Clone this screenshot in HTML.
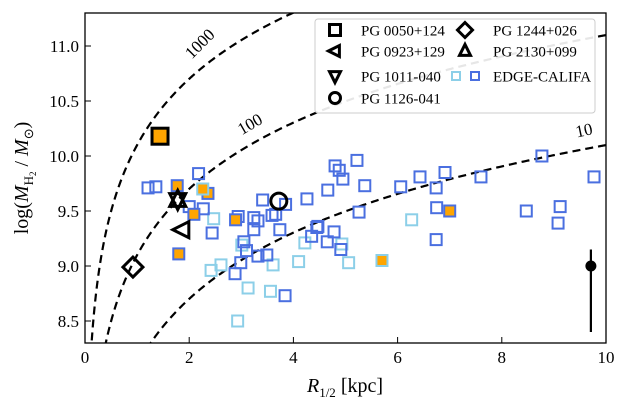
<!DOCTYPE html>
<html><head><meta charset="utf-8">
<style>
html,body{margin:0;padding:0;background:#fff;width:623px;height:411px;overflow:hidden;position:relative;}
svg{display:block;position:absolute;left:0;top:0;font-family:"Liberation Serif",serif;overflow:hidden;}
script{display:none;}
</style></head>
<body>
<svg id="chart" width="623" height="411" viewBox="0 0 623 411" xmlns="http://www.w3.org/2000/svg">
<defs><clipPath id="clip"><rect x="85" y="13" width="521" height="330"/></clipPath></defs>
<g id="curves" clip-path="url(#clip)"></g>
<g id="pts" clip-path="url(#clip)"></g>
<rect x="85" y="13" width="521" height="330" fill="none" stroke="#000" stroke-width="1.3"/>
<g id="axes"></g>
<text x="28" y="178" font-size="20" text-anchor="middle" transform="rotate(-90 28 178)">log(<tspan font-style="italic">M</tspan><tspan font-size="13" dy="5">H</tspan><tspan font-size="9" dy="3">2</tspan><tspan dy="-8"> / </tspan><tspan font-style="italic">M</tspan><tspan font-size="13" dy="5">⊙</tspan><tspan dy="-5">)</tspan></text>
<text x="345" y="392" font-size="20" text-anchor="middle"><tspan font-style="italic">R</tspan><tspan font-size="13" dy="5">1/2</tspan><tspan dy="-5"> [kpc]</tspan></text>
<g id="legend">
<rect x="315" y="19" width="280" height="94" rx="3" fill="#fff" fill-opacity="0.9" stroke="#ccc" stroke-width="1"/>
</g>
</svg>
<script>
const curveLevels = [1000, 100, 10];
const curveLabels = ["1000", "100", "10"];
const edgeDarkX = [1.21,1.36,2.18,2.0,2.27,2.44,2.94,3.05,3.1,2.99,2.88,3.24,3.32,3.24,3.32,3.41,3.49,3.59,3.66,3.74,3.85,3.84,4.26,4.35,4.45,4.47,4.65,4.66,4.78,4.8,4.88,4.95,4.91,5.22,5.37,5.26,6.06,6.43,6.74,6.75,6.74,6.91,7.6,8.47,8.77,9.08,9.12,9.77];
const edgeDarkY = [9.71,9.72,9.84,9.54,9.52,9.30,9.45,9.22,9.14,9.03,8.93,9.44,9.41,9.33,9.09,9.60,9.10,9.46,9.47,9.33,9.56,8.73,9.61,9.27,9.35,9.36,9.22,9.69,9.31,9.91,9.87,9.79,9.15,9.96,9.73,9.49,9.72,9.81,9.71,9.53,9.24,9.85,9.81,9.50,10.0,9.39,9.54,9.81];
const edgeDarkOrangeX = [1.77,2.09,2.36,2.89,7.0,1.80];
const edgeDarkOrangeY = [9.73,9.47,9.66,9.42,9.5,9.11];
const edgeLightX = [2.47,2.42,2.61,3.01,3.13,3.56,3.61,4.1,4.22,4.93,5.06,6.27,2.93];
const edgeLightY = [9.43,8.96,9.01,9.19,8.80,8.77,9.01,9.04,9.21,9.20,9.03,9.42,8.5];
const edgeLightOrangeX = [2.26,5.7];
const edgeLightOrangeY = [9.70,9.05];
const pgNames = ["PG 0050+124","PG 0923+129","PG 1011-040","PG 1126-041","PG 1244+026","PG 2130+099"];
const pgX = [1.44,1.87,1.78,3.72,0.92,1.78];
const pgY = [10.18,9.33,9.6,9.59,8.99,9.6];
const pgShape = ["square","tri-left","tri-down","circle","diamond","tri-up"];
const errX = [9.71], errY = [9.0], errLo = [8.4], errHi = [9.15];
const xTicks = [0,2,4,6,8,10];
const yTicks = [8.5,9.0,9.5,10.0,10.5,11.0];
const yTickLabels = ["8.5","9.0","9.5","10.0","10.5","11.0"];

const NS="http://www.w3.org/2000/svg";
const X0=85,X1=606,Y0=343,Y1=13,xmin=0,xmax=10,ymin=8.3,ymax=11.3;
const sx=v=>X0+(v-xmin)/(xmax-xmin)*(X1-X0);
const sy=v=>Y0-(v-ymin)/(ymax-ymin)*(Y0-Y1);
function mk(tag,attrs,parent){const e=document.createElementNS(NS,tag);for(const k in attrs)e.setAttribute(k,attrs[k]);parent.appendChild(e);return e;}
const gC=document.getElementById('curves'),gP=document.getElementById('pts'),gA=document.getElementById('axes'),gL=document.getElementById('legend');
curveLevels.forEach((s,i)=>{
  let d="";
  for(let r=0.05;r<=10.01;r+=0.02){const y=Math.log10(4*Math.PI*r*r*s*1e6);d+=(d?"L":"M")+sx(r).toFixed(2)+","+sy(y).toFixed(2);}
  const p=mk('path',{d:d,fill:"none",stroke:"#000","stroke-width":2.2,"stroke-dasharray":"8,5"},gC);
  
  
});
const svg=document.getElementById('chart');
[[1000,2.28,0.17,-45],[100,3.22,0.13,-30],[10,9.6,0.12,-12]].forEach((c,i)=>{
  const r=c[1],y=Math.log10(4*Math.PI*r*r*c[0]*1e6)+c[2];
  const t=mk('text',{x:sx(r),y:sy(y),"font-size":17,"text-anchor":"middle",transform:`rotate(${c[3]} ${sx(r)} ${sy(y)})`},svg);
  t.textContent=curveLabels[i];
  
  
});
function sq(x,y,stroke,fill,name){const r=mk('rect',{x:sx(x)-5.5,y:sy(y)-5.5,width:11,height:11,fill:fill,stroke:stroke,"stroke-width":2},gP);}
const DB="#4a6fe0",LB="#8ccfe8",OR="#ffa500";
edgeLightX.forEach((x,i)=>sq(x,edgeLightY[i],LB,"none","edge-califa-light-point"));
edgeDarkX.forEach((x,i)=>sq(x,edgeDarkY[i],DB,"none","edge-califa-point"));
edgeDarkOrangeX.forEach((x,i)=>sq(x,edgeDarkOrangeY[i],DB,OR,"edge-califa-detected-point"));
edgeLightOrangeX.forEach((x,i)=>sq(x,edgeLightOrangeY[i],LB,OR,"edge-califa-light-detected-point"));
function shape(kind,cx,cy,s,parent,fill){
  let e;
  if(kind==="square")e=mk('rect',{x:cx-s,y:cy-s,width:2*s,height:2*s},parent);
  else if(kind==="circle")e=mk('circle',{cx:cx,cy:cy,r:s},parent);
  else{let pts;
    if(kind==="diamond")pts=[[0,-s*1.25],[s*1.25,0],[0,s*1.25],[-s*1.25,0]];
    if(kind==="tri-up")pts=[[0,-s*1.2],[s,s*0.8],[-s,s*0.8]];
    if(kind==="tri-down")pts=[[0,s*1.2],[s,-s*0.8],[-s,-s*0.8]];
    if(kind==="tri-left")pts=[[-s*1.2,0],[s*0.8,-s],[s*0.8,s]];
    e=mk('polygon',{points:pts.map(p=>(cx+p[0])+","+(cy+p[1])).join(" ")},parent);}
  e.setAttribute('fill',fill||'none');e.setAttribute('stroke','#000');e.setAttribute('stroke-width',3);
  return e;
}
pgX.forEach((x,i)=>{
  const e=shape(pgShape[i],sx(x),sy(pgY[i]),8,gP,pgShape[i]==="square"?OR:"none");
  
  
});
errX.forEach((x,i)=>{
  const l=mk('line',{x1:sx(x),x2:sx(x),y1:sy(errLo[i]),y2:sy(errHi[i]),stroke:"#000","stroke-width":2.2},gP);
  
  
  const c=mk('circle',{cx:sx(x),cy:sy(errY[i]),r:5.5,fill:"#000"},gP);
  
  
});
xTicks.forEach(v=>{
  const t=mk('line',{x1:sx(v),x2:sx(v),y1:Y0,y2:Y0-6,stroke:"#000","stroke-width":1},gA);
  
  
  const tx=mk('text',{x:sx(v),y:363,"font-size":17,"text-anchor":"middle"},gA);
  tx.textContent=String(v);
  
  
});
yTicks.forEach((v,i)=>{
  const t=mk('line',{x1:X0,x2:X0+6,y1:sy(v),y2:sy(v),stroke:"#000","stroke-width":1},gA);
  
  
  const tx=mk('text',{x:79,y:sy(v)+6,"font-size":17,"text-anchor":"end"},gA);
  tx.textContent=yTickLabels[i];
  
  
});
const legPos=[[335,30,361],[335,51,361],[335,76,361],[335,98,361],[465,30,493],[465,51,493]];
const legOrder=[0,1,2,3,4,5];
legOrder.forEach((k,i)=>{
  const p=legPos[i];
  const e=shape(pgShape[k],p[0],p[1],k===4?6:5.5,gL,"none");
  
  
  const t=mk('text',{x:p[2],y:p[1]+5.5,"font-size":15},gL);
  t.textContent=pgNames[k];
  
  
});
[[456,LB],[475,DB]].forEach(c=>{
  const r=mk('rect',{x:c[0]-4,y:72,width:8,height:8,fill:"none",stroke:c[1],"stroke-width":2},gL);
  
  
});
const te=mk('text',{x:493,y:81.5,"font-size":15},gL);
te.textContent="EDGE-CALIFA";


</script>
</body></html>
